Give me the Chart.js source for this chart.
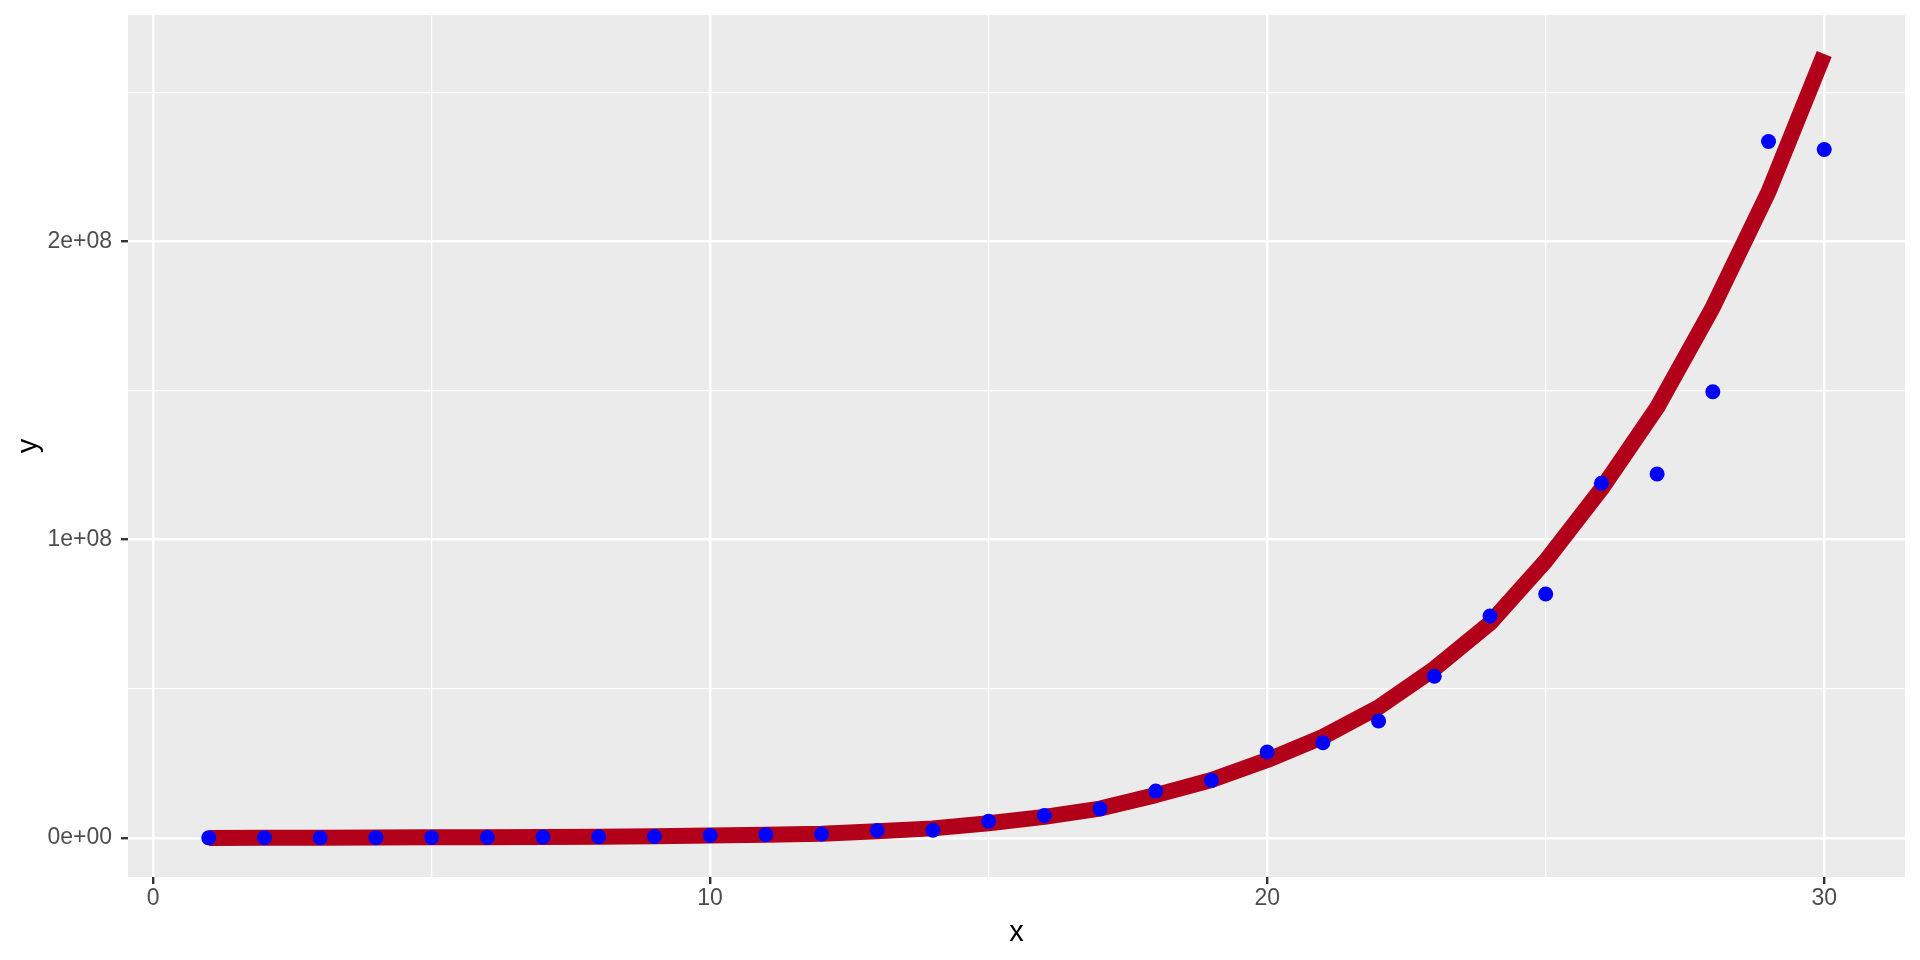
<!DOCTYPE html>
<html>
<head>
<meta charset="utf-8">
<script src="https://cdn.jsdelivr.net/npm/chart.js@4.4.1/dist/chart.umd.min.js"></script>
<style>
  html, body { margin: 0; padding: 0; background: #ffffff; }
  #wrap { width: 1920px; height: 960px; }
</style>
</head>
<body>
<div id="wrap"><canvas id="chart" width="1920" height="960"></canvas></div>
<script>
// observed points
var xs = [1, 2, 3, 4, 5, 6, 7, 8, 9, 10, 11, 12, 13, 14, 15,
          16, 17, 18, 19, 20, 21, 22, 23, 24, 25, 26, 27, 28, 29, 30];
var pointYs = [20000, 40000, 70000, 100000, 140000, 200000, 270000, 380000, 500000, 800000,
               1100000, 1300000, 2500000, 2600000, 5600000, 7500000, 9750000, 15700000, 19300000, 28800000,
               31900000, 39200000, 54200000, 74400000, 81800000, 118900000, 122000000, 149600000, 233500000, 230800000];
// fitted curve
var fitYs = [0, 50000, 100000, 150000, 200000, 250000, 300000, 400000, 550000, 800000,
             1050000, 1400000, 2200000, 3200000, 4900000, 7060000, 9850000, 14350000, 19400000, 26100000,
             33900000, 43800000, 56700000, 72000000, 92900000, 117000000, 144300000, 177900000, 216600000, 262800000];

var xTicks = [0, 5, 10, 15, 20, 25, 30];
var xLabels = ['0', '', '10', '', '20', '', '30'];
var yTicks = [0, 50000000, 100000000, 150000000, 200000000, 250000000];
var yLabels = ['0e+00', '', '1e+08', '', '2e+08', ''];

function pairs(ys) {
  return xs.map(function (x, i) { return { x: x, y: ys[i] }; });
}

var panelBg = {
  id: 'panelBg',
  beforeDraw: function (chart) {
    var a = chart.chartArea, ctx = chart.ctx;
    ctx.save();
    ctx.fillStyle = '#EBEBEB';
    ctx.fillRect(a.left, a.top, a.right - a.left, a.bottom - a.top);
    ctx.restore();
  }
};

function gridOpts(labels) {
  return {
    color: '#ffffff',
    lineWidth: function (c) { return labels[c.index] ? 2.4 : 1.2; },
    drawTicks: true,
    tickLength: 7,
    tickWidth: 2.4,
    tickColor: function (c) { return labels[c.index] ? '#333333' : 'rgba(0,0,0,0)'; }
  };
}

new Chart(document.getElementById('chart'), {
  type: 'scatter',
  data: {
    datasets: [
      {
        label: 'points',
        data: pairs(pointYs),
        backgroundColor: '#0000FF',
        borderWidth: 0,
        pointRadius: 7.5,
        showLine: false,
        order: 0
      },
      {
        label: 'fit',
        data: pairs(fitYs),
        showLine: true,
        borderColor: '#B2001B',
        borderWidth: 16,
        borderCapStyle: 'butt',
        borderJoinStyle: 'round',
        pointRadius: 0,
        tension: 0,
        order: 1
      }
    ]
  },
  options: {
    responsive: false,
    animation: false,
    devicePixelRatio: 1,
    layout: { padding: { top: 15, right: 15, left: 0, bottom: 0 } },
    plugins: { legend: { display: false }, tooltip: { enabled: false } },
    scales: {
      x: {
        type: 'linear',
        min: -0.45,
        max: 31.45,
        afterBuildTicks: function (s) { s.ticks = xTicks.map(function (v) { return { value: v }; }); },
        afterFit: function (s) { s.height = 83; s.paddingLeft = 0; s.paddingRight = 0; },
        grid: gridOpts(xLabels),
        border: { display: false },
        ticks: {
          padding: 1,
          color: '#4D4D4D',
          font: { family: 'Liberation Sans', size: 23 },
          maxRotation: 0,
          autoSkip: false,
          callback: function (v, i) { return xLabels[i]; }
        },
        title: {
          display: true,
          text: 'x',
          color: '#000000',
          font: { family: 'Liberation Sans', size: 29 },
          padding: { top: 0, bottom: 10 }
        }
      },
      y: {
        type: 'linear',
        min: -13100000,
        max: 275900000,
        afterBuildTicks: function (s) { s.ticks = yTicks.map(function (v) { return { value: v }; }); },
        afterFit: function (s) { s.width = 128; s.paddingTop = 0; s.paddingBottom = 0; },
        grid: gridOpts(yLabels),
        border: { display: false },
        ticks: {
          padding: 9,
          color: '#4D4D4D',
          font: { family: 'Liberation Sans', size: 23 },
          autoSkip: false,
          callback: function (v, i) { return yLabels[i]; }
        },
        title: {
          display: true,
          text: 'y',
          color: '#000000',
          font: { family: 'Liberation Sans', size: 29 },
          padding: { top: 12, bottom: 0 }
        }
      }
    }
  },
  plugins: [panelBg]
});
</script>
</body>
</html>
